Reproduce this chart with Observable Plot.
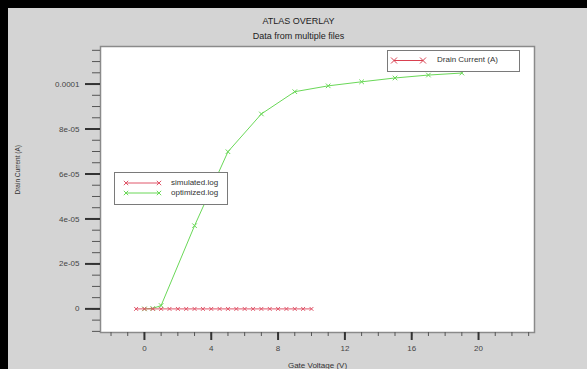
<!DOCTYPE html>
<html>
<head>
<meta charset="utf-8">
<script src="https://cdn.jsdelivr.net/npm/d3@7"></script>
<script src="https://cdn.jsdelivr.net/npm/@observablehq/plot@0.6"></script>
<style>
  html, body { margin: 0; padding: 0; background: #d4d4d4; }
  #wrap { position: relative; width: 587px; height: 369px; overflow: hidden; background: #d4d4d4; font-family: "Liberation Sans", Arial, sans-serif; }
  #wrap > svg { position: absolute; left: 0; top: 0; }
  .bar { position: absolute; background: #000; }
  .legend { position: absolute; background: #fff; border: 1.5px solid #7a7a7a; box-sizing: border-box; }
  .legend .row { position: absolute; font-size: 8px; color: #333; line-height: 8px; white-space: nowrap; }
  .legend svg { position: absolute; overflow: visible; }
</style>
</head>
<body>
<div id="wrap"></div>
<script>
// ---- data ----
const titleText = "ATLAS OVERLAY";
const subtitleText = "Data from multiple files";
const xLabel = "Gate Voltage (V)";
const yLabel = "Drain Current (A)";

const simulatedV = [-0.5, 0, 0.5, 1, 1.5, 2, 2.5, 3, 3.5, 4, 4.5, 5, 5.5, 6, 6.5, 7, 7.5, 8, 8.5, 9, 9.5, 10];
const simulatedI = [0, 0, 0, 0, 0, 0, 0, 0, 0, 0, 0, 0, 0, 0, 0, 0, 0, 0, 0, 0, 0, 0];

const optimizedV = [0, 0.5, 1, 3, 5, 7, 9, 11, 13, 15, 17, 19];
const optimizedI = [0, 0.2e-6, 1.5e-6, 3.70e-5, 6.99e-5, 8.67e-5, 9.66e-5, 9.92e-5, 1.010e-4, 1.027e-4, 1.040e-4, 1.049e-4];

const seriesNames = ["simulated.log", "optimized.log"];
const seriesColors = ["#e0566a", "#6ad858"];
const extraLegendName = "Drain Current (A)";

const xMajorTicks = [0, 4, 8, 12, 16, 20];
const xMinorTicks = d3.range(-2, 24, 1);
const yMajorTicks = [0, 2e-5, 4e-5, 6e-5, 8e-5, 1e-4];
const yMajorLabels = ["0", "2e-05", "4e-05", "6e-05", "8e-05", "0.0001"];
const yMinorTicks = d3.range(-2, 24).map(k => k * 0.5e-5);

// ---- build ----
const simulated = simulatedV.map((v, i) => ({v, i: simulatedI[i]}));
const optimized = optimizedV.map((v, i) => ({v, i: optimizedI[i]}));

const plot = Plot.plot({
  width: 587,
  height: 369,
  marginLeft: 100,
  marginRight: 53,
  marginTop: 46,
  marginBottom: 37,
  style: {background: "transparent", fontFamily: "'Liberation Sans', Arial, sans-serif", fontSize: "8px", color: "#333"},
  x: {domain: [-2.63, 23.35]},
  y: {domain: [-1.05e-5, 1.167e-4]},
  marks: [
    Plot.frame({fill: "white", stroke: "#8a8a8a", strokeWidth: 1.5}),
    Plot.axisY({ticks: yMinorTicks, tickSize: 8, tickFormat: () => "", stroke: "#555", label: null}),
    Plot.axisY({ticks: yMajorTicks, tickSize: 15, tickPadding: 6, strokeWidth: 2, stroke: "#333", fill: "#444",
      tickFormat: d => yMajorLabels[yMajorTicks.indexOf(d)], label: null}),
    Plot.axisX({ticks: xMinorTicks, tickSize: 4, tickFormat: () => "", stroke: "#555", label: null}),
    Plot.axisX({ticks: xMajorTicks, tickSize: 8, tickPadding: 5, strokeWidth: 2, stroke: "#333", fill: "#444", label: null}),
    Plot.line(optimized, {x: "v", y: "i", stroke: seriesColors[1], strokeWidth: 1}),
    Plot.dot(optimized, {x: "v", y: "i", symbol: "times", r: 2.2, stroke: seriesColors[1], strokeWidth: 1}),
    Plot.line(simulated, {x: "v", y: "i", stroke: seriesColors[0], strokeWidth: 1}),
    Plot.dot(simulated, {x: "v", y: "i", symbol: "times", r: 1.9, stroke: seriesColors[0], strokeWidth: 1}),
    Plot.text([titleText], {text: d => d, frameAnchor: "top", dx: -19, dy: -29, fontSize: 9, fill: "#222"}),
    Plot.text([subtitleText], {text: d => d, frameAnchor: "top", dx: -19, dy: -14, fontSize: 9, fill: "#222"}),
    Plot.text([xLabel], {text: d => d, frameAnchor: "bottom", dy: 35.5, fontSize: 8, fill: "#333"}),
    Plot.text([yLabel], {text: d => d, frameAnchor: "left", rotate: -90, dx: -82.5, dy: 5, fontSize: 6.5, fill: "#333"})
  ]
});

const wrap = document.getElementById("wrap");
wrap.appendChild(plot);

// black window border (top and left)
const barTop = document.createElement("div");
barTop.className = "bar"; Object.assign(barTop.style, {left: "0px", top: "0px", width: "587px", height: "8px"});
const barLeft = document.createElement("div");
barLeft.className = "bar"; Object.assign(barLeft.style, {left: "0px", top: "0px", width: "8px", height: "369px"});
wrap.appendChild(barTop); wrap.appendChild(barLeft);

// legends
function makeLegend(box, entries, lineX0, lineX1, textX, rowY, r) {
  const lg = document.createElement("div");
  lg.className = "legend";
  Object.assign(lg.style, {left: box[0] + "px", top: box[1] + "px", width: box[2] + "px", height: box[3] + "px"});
  entries.forEach((e, k) => {
    const y = rowY[k];
    const ns = "http://www.w3.org/2000/svg";
    const s = document.createElementNS(ns, "svg");
    s.setAttribute("width", "1"); s.setAttribute("height", "1");
    s.style.left = "0px"; s.style.top = "0px";
    const ln = document.createElementNS(ns, "line");
    ln.setAttribute("x1", lineX0); ln.setAttribute("x2", lineX1);
    ln.setAttribute("y1", y); ln.setAttribute("y2", y);
    ln.setAttribute("stroke", e.color); ln.setAttribute("stroke-width", "1");
    s.appendChild(ln);
    [lineX0, lineX1].forEach(cx => {
      const p = document.createElementNS(ns, "path");
      p.setAttribute("d", `M${cx - r},${y - r}L${cx + r},${y + r}M${cx - r},${y + r}L${cx + r},${y - r}`);
      p.setAttribute("stroke", e.color); p.setAttribute("stroke-width", "1");
      s.appendChild(p);
    });
    lg.appendChild(s);
    const t = document.createElement("div");
    t.className = "row";
    t.textContent = e.name;
    Object.assign(t.style, {left: textX + "px", top: (y - 4.5) + "px"});
    lg.appendChild(t);
  });
  wrap.appendChild(lg);
}

makeLegend([114, 172, 114, 33],
  seriesNames.map((n, k) => ({name: n, color: seriesColors[k]})),
  11, 44, 56, [10, 20], 2.2);

makeLegend([387, 50, 133, 22],
  [{name: extraLegendName, color: "#d94050"}],
  6, 35, 49, [9.5], 3);
</script>
</body>
</html>
